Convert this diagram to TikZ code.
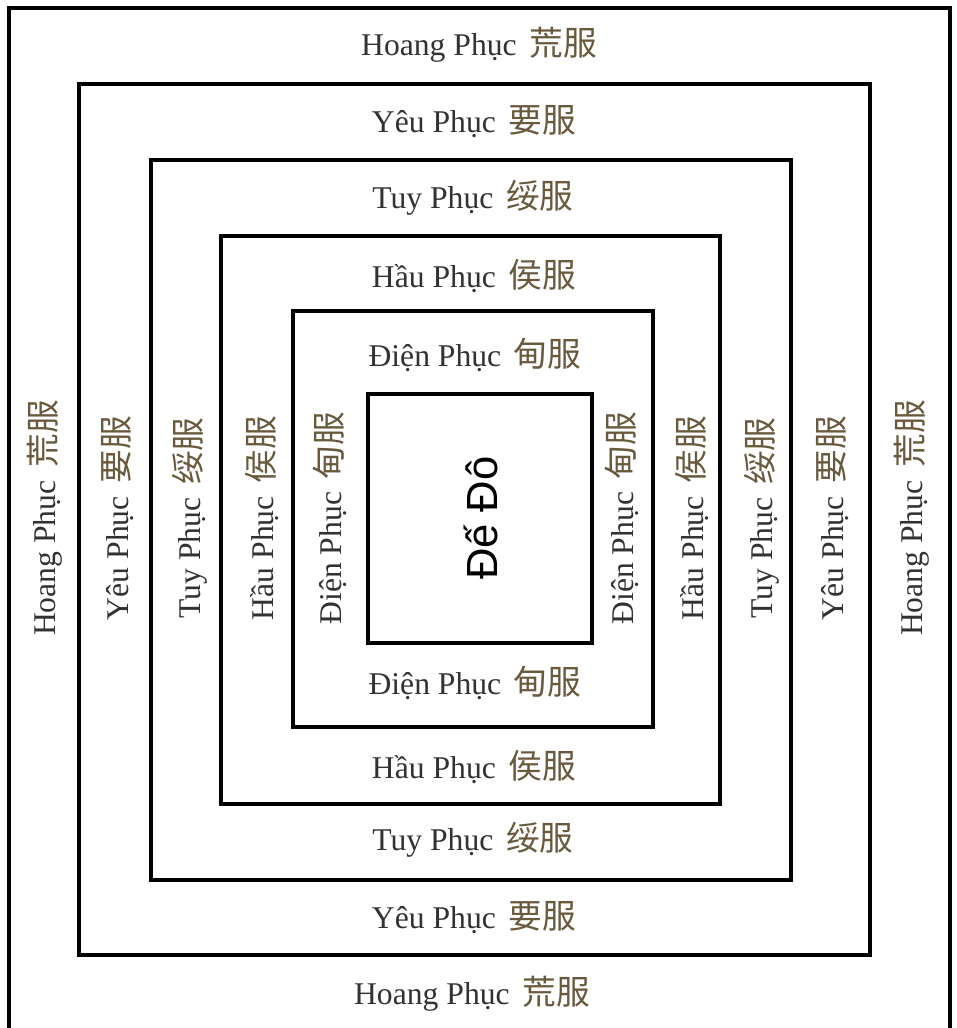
\documentclass[tikz,border=0pt]{standalone}
\usepackage{fontspec}
\setmainfont{Liberation Serif}
\newfontfamily\capfont{Liberation Sans}
\newfontfamily\cjk{Noto Sans CJK SC}
\definecolor{viet}{RGB}{50,50,50}
\definecolor{han}{RGB}{105,90,62}
% one zone name: Vietnamese reading, then the characters
\newcommand{\zone}[2]{\textcolor{viet}{#1}\hspace{0.4em}{\cjk\fontsize{24}{28}\selectfont\textcolor{han}{#2}}}

\begin{document}
\begin{tikzpicture}[
  x=0.025cm, y=-0.025cm,
  frame/.style={line width=2.8pt},
  lbl/.style={font=\fontsize{22.5}{26}\selectfont, inner sep=0pt},
  vlbl/.style={lbl, rotate=90}
]
\useasboundingbox (0,0) rectangle (956,1028);
\fill[white] (0,0) rectangle (956,1028);

% frames, outermost first
\draw[frame] (9,8) rectangle (950,1045);
\draw[frame] (79,84) rectangle (870,955);
\draw[frame] (151,160) rectangle (791,880);
\draw[frame] (221,236) rectangle (720,804);
\draw[frame] (293,311) rectangle (653,727);
\draw[frame] (368,394) rectangle (592,643);

% centre
\node[vlbl, font=\capfont\fontsize{31}{35}\selectfont] (dedo) at (481,518) {Đế Đô};

% Hoang Phuc
\node[lbl] (hoangN) at (479,45) {\zone{Hoang Phục}{荒服}};
\node[lbl] (hoangS) at (472,994) {\zone{Hoang Phục}{荒服}};
\node[vlbl] (hoangW) at (45,518) {\zone{Hoang Phục}{荒服}};
\node[vlbl] (hoangE) at (912,518) {\zone{Hoang Phục}{荒服}};

% Yeu Phuc
\node[lbl] (yeuN) at (474,122) {\zone{Yêu Phục}{要服}};
\node[lbl] (yeuS) at (474,918) {\zone{Yêu Phục}{要服}};
\node[vlbl] (yeuW) at (118,518) {\zone{Yêu Phục}{要服}};
\node[vlbl] (yeuE) at (833,518) {\zone{Yêu Phục}{要服}};

% Tuy Phuc
\node[lbl] (tuyN) at (473,198) {\zone{Tuy Phục}{绥服}};
\node[lbl] (tuyS) at (473,840) {\zone{Tuy Phục}{绥服}};
\node[vlbl] (tuyW) at (190,518) {\zone{Tuy Phục}{绥服}};
\node[vlbl] (tuyE) at (762,518) {\zone{Tuy Phục}{绥服}};

% Hau Phuc
\node[lbl] (hauN) at (474,276) {\zone{Hầu Phục}{侯服}};
\node[lbl] (hauS) at (474,767) {\zone{Hầu Phục}{侯服}};
\node[vlbl] (hauW) at (262,518) {\zone{Hầu Phục}{侯服}};
\node[vlbl] (hauE) at (692,518) {\zone{Hầu Phục}{侯服}};

% Dien Phuc
\node[lbl] (dienN) at (475,355) {\zone{Điện Phục}{甸服}};
\node[lbl] (dienS) at (475,683) {\zone{Điện Phục}{甸服}};
\node[vlbl] (dienW) at (330,518) {\zone{Điện Phục}{甸服}};
\node[vlbl] (dienE) at (622,518) {\zone{Điện Phục}{甸服}};
\end{tikzpicture}
\end{document}
